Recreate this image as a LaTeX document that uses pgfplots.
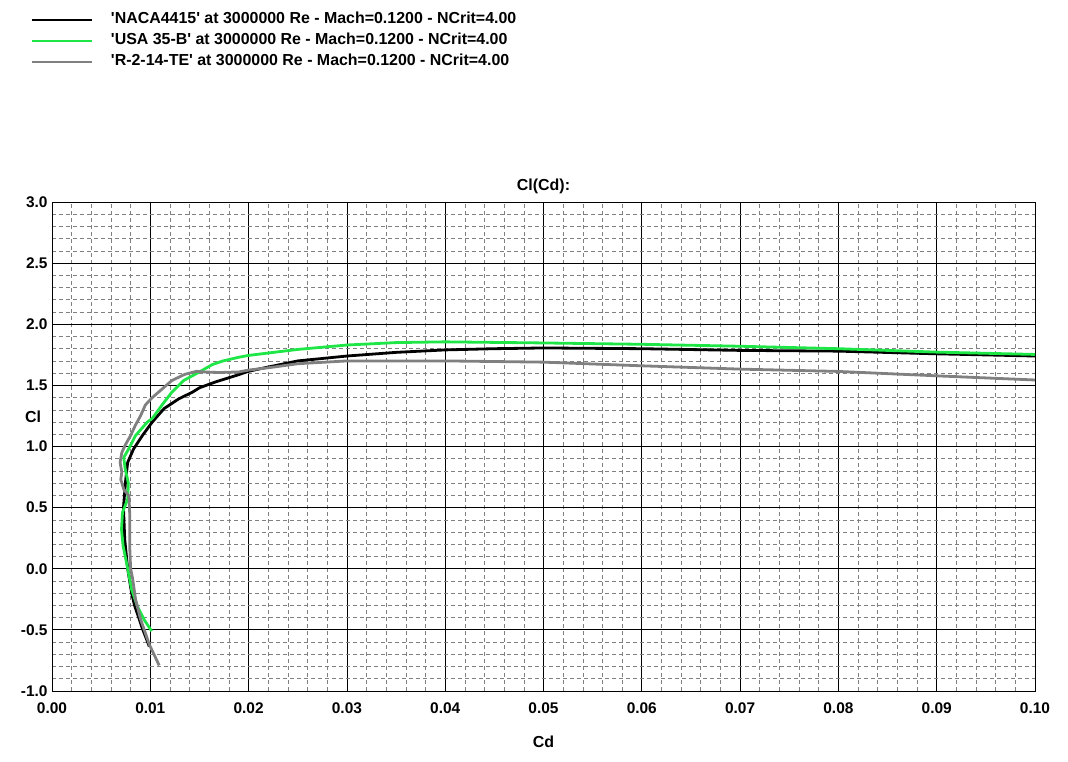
\documentclass[border=0pt]{standalone}
\usepackage{fontspec}
\setmainfont{Liberation Sans}
\usepackage{pgfplots}
\pgfplotsset{compat=1.18}
\definecolor{cgreen}{RGB}{30,230,70}
\definecolor{cgray}{RGB}{128,128,128}
\newcommand{\q}{\textquotesingle}
\begin{document}
\begin{tikzpicture}
\path[use as bounding box] (-52bp,-71bp) rectangle (1016bp,691bp);
\begin{axis}[
  at={(0,0)}, anchor=south west,
  scale only axis, width=983bp, height=489bp,
  xmin=0, xmax=0.1, ymin=-1, ymax=3,
  xtick={0,0.01,...,0.1}, ytick={-1,-0.5,...,3},
  minor x tick num=4, minor y tick num=4,
  major tick length=0pt, minor tick length=0pt,
  grid=both,
  major grid style={black, line width=0.8bp},
  minor grid style={gray, dashed, line width=0.6bp, dash pattern=on 4bp off 3bp},
  axis line style={black, line width=0.9bp},
  /pgf/number format/assume math mode=true,
  scaled x ticks=false,
  xticklabel style={font=\bfseries\fontsize{15.5}{15.5}\selectfont, /pgf/number format/fixed, /pgf/number format/fixed zerofill, /pgf/number format/precision=2, yshift=-8bp},
  yticklabel style={font=\bfseries\fontsize{15.5}{15.5}\selectfont, /pgf/number format/fixed, /pgf/number format/fixed zerofill, /pgf/number format/precision=1, xshift=-1bp},
  title={\bfseries\fontsize{16}{16}\selectfont Cl(Cd):},
  title style={at={(0.5,1)}, anchor=center, yshift=10bp},
  xlabel={\bfseries\fontsize{16}{16}\selectfont Cd},
  ylabel={\bfseries\fontsize{16}{16}\selectfont Cl},
  xlabel style={at={(0.5,0)}, anchor=center, yshift=-51bp},
  ylabel style={at={(0,0.5617)}, anchor=center, rotate=-90, xshift=-19bp},
  legend style={at={(rel axis cs:-0.0224,1.388)}, anchor=north west, draw=none, fill=none, inner sep=0pt, row sep=6bp,
    nodes={inner sep=0pt, font=\bfseries\fontsize{16}{16}\selectfont, text height=11bp, text depth=4bp}},
  legend cell align=left,
  legend image code/.code={\draw[#1] (0bp,0bp) -- (60bp,0bp); \path (78bp,0bp);},
  every axis plot/.append style={line width=2.8bp, line join=round},
]
\addplot[black] coordinates {
(0.0099,-0.636) (0.0092,-0.49) (0.0084,-0.30) (0.0081,-0.20) (0.0077,0.0) (0.0074,0.24) (0.00727,0.5) (0.0075,0.73) (0.0077,0.87) (0.0083,0.98) (0.0092,1.09) (0.0102,1.20) (0.0114,1.31) (0.0129,1.39) (0.0143,1.445) (0.015,1.48) (0.0167,1.53) (0.0187,1.58) (0.02,1.615) (0.0214,1.64) (0.025,1.70) (0.03,1.74) (0.035,1.77) (0.04,1.79) (0.045,1.80) (0.05,1.806) (0.06,1.80) (0.07,1.786) (0.08,1.78) (0.09,1.758) (0.1,1.74)
};
\addlegendentry{\q NACA4415\q{} at 3000000 Re - Mach=0.1200 - NCrit=4.00}
\addplot[cgreen] coordinates {
(0.01014,-0.51) (0.0094,-0.42) (0.0087,-0.31) (0.0081,-0.17) (0.0077,0.0) (0.00723,0.19) (0.00707,0.32) (0.00717,0.46) (0.0077,0.57) (0.00777,0.70) (0.00744,0.82) (0.0073,0.91) (0.0078,0.98) (0.0085,1.09) (0.0097,1.20) (0.0102,1.23) (0.0112,1.34) (0.0122,1.445) (0.0134,1.54) (0.015,1.61) (0.0163,1.67) (0.0174,1.70) (0.019,1.73) (0.02,1.745) (0.025,1.794) (0.03,1.83) (0.035,1.85) (0.04,1.856) (0.05,1.847) (0.06,1.836) (0.07,1.82) (0.08,1.80) (0.09,1.772) (0.1,1.753)
};
\addlegendentry{\q USA 35-B\q{} at 3000000 Re - Mach=0.1200 - NCrit=4.00}
\addplot[cgray] coordinates {
(0.0109,-0.79) (0.0099,-0.62) (0.009,-0.41) (0.0085,-0.25) (0.0082,-0.08) (0.008,0.0) (0.0079,0.19) (0.0079,0.46) (0.00783,0.595) (0.0073,0.65) (0.0070,0.73) (0.0071,0.79) (0.00693,0.87) (0.0071,0.95) (0.00744,1.01) (0.008,1.09) (0.00846,1.17) (0.009,1.25) (0.0095,1.34) (0.0102,1.40) (0.0112,1.47) (0.0122,1.54) (0.0135,1.59) (0.0147,1.615) (0.0155,1.61) (0.017,1.605) (0.019,1.61) (0.02,1.625) (0.0221,1.645) (0.025,1.677) (0.03,1.70) (0.035,1.70) (0.04,1.70) (0.045,1.695) (0.05,1.69) (0.06,1.66) (0.07,1.633) (0.08,1.614) (0.09,1.578) (0.1,1.544)
};
\addlegendentry{\q R-2-14-TE\q{} at 3000000 Re - Mach=0.1200 - NCrit=4.00}
\end{axis}
\end{tikzpicture}
\end{document}
